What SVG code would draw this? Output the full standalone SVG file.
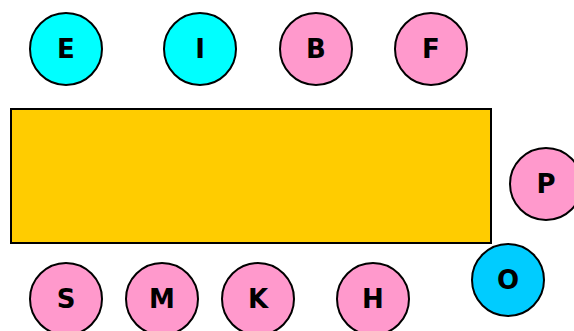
<svg xmlns="http://www.w3.org/2000/svg" width="574" height="331" viewBox="0 0 574 331">
<style>
.n{stroke:#000;stroke-width:2}
.c{fill:#00ffff}.p{fill:#ff99cc}.o{fill:#00ccff}
text{font-family:"DejaVu Sans",sans-serif;font-weight:bold;font-size:26px;text-anchor:middle;dominant-baseline:central;fill:#000}
</style>
<rect width="574" height="331" fill="#fff"/>
<g id="box"><rect x="11" y="109" width="480" height="134" fill="#ffcc00" stroke="#000" stroke-width="2"/></g>
<g id="E"><circle class="n c" cx="66" cy="49" r="36"/><text x="66" y="49">E</text></g>
<g id="I"><circle class="n c" cx="200" cy="49" r="36"/><text x="200" y="49">I</text></g>
<g id="B"><circle class="n p" cx="316" cy="49" r="36"/><text x="316" y="49">B</text></g>
<g id="F"><circle class="n p" cx="431" cy="49" r="36"/><text x="431" y="49">F</text></g>
<g id="P"><circle class="n p" cx="546" cy="184" r="36"/><text x="546" y="184">P</text></g>
<g id="O"><circle class="n o" cx="508" cy="280" r="36"/><text x="508" y="280">O</text></g>
<g id="S"><circle class="n p" cx="66" cy="299" r="36"/><text x="66" y="299">S</text></g>
<g id="M"><circle class="n p" cx="162" cy="299" r="36"/><text x="162" y="299">M</text></g>
<g id="K"><circle class="n p" cx="258" cy="299" r="36"/><text x="258" y="299">K</text></g>
<g id="H"><circle class="n p" cx="373" cy="299" r="36"/><text x="373" y="299">H</text></g>
<g id="connectors"/>
</svg>
